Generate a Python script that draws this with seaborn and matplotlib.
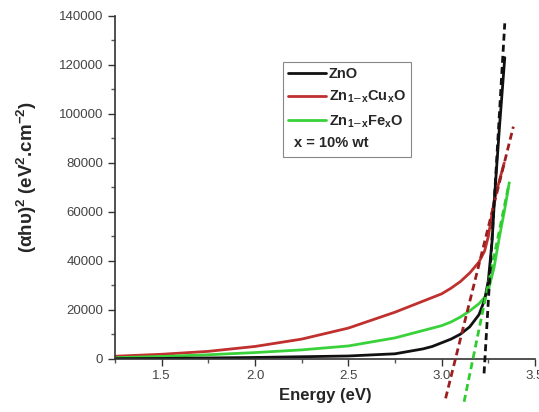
import matplotlib
matplotlib.use("Agg")
import matplotlib.pyplot as plt
import seaborn as sns
import pandas as pd
from matplotlib.lines import Line2D
from matplotlib.ticker import MultipleLocator

# Tauc plot data
energy_zno = [1.25, 1.5, 2.0, 2.5, 2.75, 2.9, 2.95, 3.0, 3.05, 3.1, 3.15, 3.2,
              3.23, 3.25, 3.27, 3.285, 3.31, 3.338]
alpha_zno = [0, 100, 500, 1100, 2000, 4000, 5000, 6500, 8000, 10000, 13000,
             18000, 24000, 32000, 48000, 68000, 95000, 123000]

energy_cu = [1.25, 1.5, 1.75, 2.0, 2.25, 2.5, 2.75, 2.9, 3.0, 3.05, 3.1, 3.15,
             3.2, 3.23, 3.25, 3.28, 3.31, 3.335]
alpha_cu = [1000, 1800, 3000, 5000, 8000, 12500, 19000, 23500, 26500, 28800,
            31500, 35000, 39500, 44000, 50000, 64000, 73000, 80000]

energy_fe = [1.25, 1.5, 1.75, 2.0, 2.25, 2.5, 2.75, 2.9, 3.0, 3.05, 3.1, 3.15,
             3.2, 3.23, 3.25, 3.28, 3.31, 3.34, 3.36]
alpha_fe = [400, 900, 1600, 2500, 3600, 5200, 8500, 11500, 13500, 15000,
            17000, 19500, 22500, 25000, 28000, 37000, 50000, 62000, 71000]

# linear fits (band gap extrapolation)
fit_zno_x = [3.227, 3.338]
fit_zno_y = [-6000, 137000]
fit_cu_x = [3.021, 3.384]
fit_cu_y = [-16200, 94800]
fit_fe_x = [3.12, 3.363]
fit_fe_y = [-17600, 72300]

sns.set_style("ticks")
plt.rcParams['font.family'] = ['Liberation Sans', 'DejaVu Sans']
plt.rcParams['mathtext.fontset'] = 'custom'
plt.rcParams['mathtext.rm'] = 'Liberation Sans:bold'
plt.rcParams['mathtext.bf'] = 'Liberation Sans:bold'
plt.rcParams['mathtext.it'] = 'Liberation Sans:bold'
plt.rcParams['mathtext.default'] = 'bf'

fig = plt.figure(figsize=(5.39, 4.12), dpi=100)
ax = fig.add_axes([0.2134, 0.1294, 0.7792, 0.8318])

c_black = "#111111"
c_red = "#c0302f"
c_green = "#3ad23a"

df_zno = pd.DataFrame({"E": energy_zno, "A": alpha_zno})
df_cu = pd.DataFrame({"E": energy_cu, "A": alpha_cu})
df_fe = pd.DataFrame({"E": energy_fe, "A": alpha_fe})

sns.lineplot(data=df_cu, x="E", y="A", color=c_red, linewidth=2, ax=ax)
sns.lineplot(data=df_fe, x="E", y="A", color=c_green, linewidth=2, ax=ax)
sns.lineplot(data=df_zno, x="E", y="A", color=c_black, linewidth=2, ax=ax)

for fx, fy, col in [(fit_cu_x, fit_cu_y, "#9b1f1f"),
                    (fit_fe_x, fit_fe_y, "#2ecc2e"),
                    (fit_zno_x, fit_zno_y, c_black)]:
    ax.plot(fx, fy, color=col, linewidth=2, linestyle=(0, (2.5, 1.5)),
            clip_on=False, zorder=3)

ax.set_xlim(1.25, 3.5)
ax.set_ylim(0, 140000)
ax.xaxis.set_major_locator(MultipleLocator(0.5))
ax.xaxis.set_minor_locator(MultipleLocator(0.25))
ax.yaxis.set_major_locator(MultipleLocator(20000))
ax.yaxis.set_minor_locator(MultipleLocator(10000))
ax.tick_params(which="major", direction="out", length=5, width=1,
               labelsize=9.5, labelcolor="#444444", color="#333333")
ax.tick_params(which="minor", direction="out", length=3, width=1,
               color="#555555")
for side in ["left", "bottom"]:
    ax.spines[side].set_color("#333333")
    ax.spines[side].set_linewidth(1.2)
sns.despine(ax=ax)

ax.set_xlabel("Energy (eV)", fontsize=12, fontweight="bold", labelpad=4)
ax.set_ylabel(r"(αhυ)$^2$ (eV$^2$.cm$^{-2}$)", fontsize=13.5,
              fontweight="bold")
ax.yaxis.set_label_coords(-0.18, 0.529)

handles = [Line2D([], [], color=c_black, linewidth=2),
           Line2D([], [], color=c_red, linewidth=2),
           Line2D([], [], color=c_green, linewidth=2),
           Line2D([], [], color="none")]
labels = ["ZnO", r"Zn$_{1\mathsf{-}x}$Cu$_x$O", r"Zn$_{1\mathsf{-}x}$Fe$_x$O", " "]
leg = ax.legend(handles, labels, loc="upper left",
                bbox_to_anchor=(0.4, 0.866), fancybox=False, framealpha=1,
                edgecolor="#888888", handlelength=2.6, handletextpad=0.2,
                labelspacing=0.55, borderpad=0.35, borderaxespad=0,
                prop={"weight": "bold", "size": 10.5})
leg.get_frame().set_linewidth(0.8)
ax.text(0.425, 0.63, "x = 10% wt", transform=ax.transAxes, zorder=10,
        fontsize=10.5, fontweight="bold", ha="left", va="center")

fig.savefig("out.png", dpi=100)
